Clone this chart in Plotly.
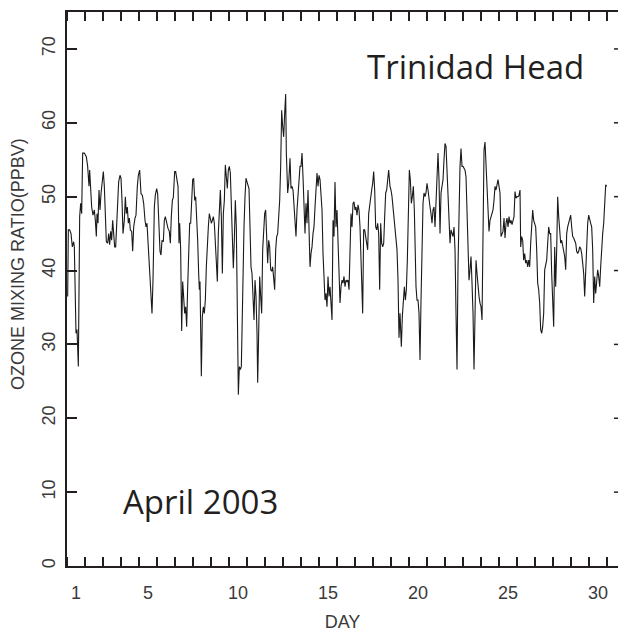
import plotly.graph_objects as go

# Surface ozone, Trinidad Head, April 2003.
# Time is in days of the month (1.0 = start of April 1), ozone in ppbv.
days_a = [1.037, 1.074, 1.148, 1.222, 1.296, 1.370, 1.407, 1.444, 1.5, 1.556, 1.630, 1.704, 1.759, 1.815,
          1.870, 1.963, 2.074, 2.148, 2.222, 2.259, 2.296, 2.370, 2.444, 2.519, 2.574, 2.630, 2.667, 2.722,
          2.778, 2.833, 2.889, 2.963, 3.019, 3.074, 3.130, 3.185, 3.259, 3.315, 3.370, 3.426, 3.481, 3.537,
          3.593, 3.648, 3.704, 3.759, 3.815, 3.870, 3.944, 4.0, 4.056, 4.111, 4.185, 4.241, 4.296, 4.352,
          4.407, 4.463, 4.519, 4.593, 4.648, 4.704, 4.778, 4.833, 4.907, 4.963, 5.037, 5.111, 5.185, 5.259,
          5.333, 5.389, 5.444, 5.5, 5.574, 5.648, 5.722, 5.778, 5.852, 5.907, 5.981, 6.037, 6.093, 6.167,
          6.222, 6.278, 6.352, 6.407, 6.463, 6.537, 6.611, 6.685, 6.741, 6.796, 6.852, 6.907, 6.981, 7.037]
ozone_a = [36.5, 45.5, 45.5, 45.0, 43.2, 43.9, 43.2, 40.0, 31.5, 32.0, 27.0, 47.3, 49.1, 47.7,
           55.9, 55.9, 55.4, 54.1, 51.4, 53.6, 51.4, 48.6, 47.5, 48.2, 46.8, 44.6, 47.7, 46.4,
           50.9, 48.2, 50.4, 52.7, 53.4, 51.4, 46.8, 43.9, 43.7, 45.0, 43.5, 45.3, 44.1, 46.8,
           45.0, 43.2, 43.2, 45.9, 47.5, 52.0, 52.9, 52.5, 49.5, 45.0, 46.8, 50.0, 47.7, 48.6,
           46.4, 47.1, 45.5, 45.3, 42.6, 45.9, 47.1, 47.5, 51.4, 52.9, 53.6, 50.4, 50.2, 49.1,
           46.8, 45.9, 46.4, 43.7, 39.6, 36.5, 34.2, 38.7, 48.6, 50.2, 51.1, 50.4, 45.9, 42.6,
           42.1, 44.1, 43.9, 46.8, 47.3, 46.4, 45.7, 45.3, 43.7, 47.3, 49.5, 49.9, 53.4, 53.4]

days_b = [7.167, 7.222, 7.259, 7.315, 7.370, 7.426, 7.481, 7.537, 7.593, 7.648, 7.704, 7.759, 7.815, 7.870,
          7.926, 7.981, 8.037, 8.093, 8.148, 8.204, 8.259, 8.315, 8.352, 8.389, 8.426, 8.463, 8.519, 8.574,
          8.630, 8.685, 8.741, 8.796, 8.852, 8.907, 8.963, 9.019, 9.074, 9.130, 9.185, 9.241, 9.296, 9.352,
          9.407, 9.463, 9.519, 9.574, 9.630, 9.685, 9.741, 9.796, 9.852, 9.907, 9.963, 10.019, 10.074,
          10.130, 10.185, 10.241, 10.296, 10.352, 10.407, 10.463, 10.519, 10.574, 10.630, 10.685, 10.722,
          10.778, 10.833, 10.889, 10.944, 11.0, 11.056, 11.111, 11.167, 11.222, 11.278, 11.333, 11.389,
          11.444, 11.5, 11.556, 11.593, 11.648, 11.704, 11.759, 11.815, 11.870, 11.926, 11.981, 12.037,
          12.093, 12.148, 12.204, 12.259, 12.315, 12.370, 12.426, 12.481, 12.537, 12.593, 12.648, 12.704,
          12.759, 12.815, 12.870, 12.926, 12.981, 13.037, 13.093]
ozone_b = [51.4, 43.7, 46.4, 42.8, 31.8, 38.5, 36.9, 34.2, 35.1, 32.4, 37.8, 42.8, 46.4, 46.4,
           49.5, 52.3, 52.5, 49.5, 50.0, 47.3, 44.1, 39.6, 37.4, 38.5, 33.8, 25.7, 33.8, 35.1,
           34.2, 36.0, 40.5, 43.7, 45.9, 47.7, 47.1, 46.4, 46.8, 47.3, 46.4, 43.2, 41.0, 38.5,
           45.0, 49.5, 50.9, 47.3, 39.6, 47.7, 49.5, 54.3, 52.3, 51.1, 53.6, 54.1, 53.2,
           48.2, 43.7, 40.3, 44.1, 49.5, 45.9, 35.6, 23.2, 27.0, 26.6, 27.0, 32.4,
           40.5, 45.9, 50.0, 52.5, 52.0, 51.6, 51.1, 45.9, 40.5, 39.6, 36.9, 33.3,
           38.7, 36.5, 31.5, 24.8, 31.5, 39.2, 36.5, 34.2, 42.8, 45.5, 47.7, 48.2,
           45.0, 41.0, 44.1, 43.2, 40.1, 39.9, 40.5, 38.7, 37.4, 42.8, 44.6, 45.0,
           47.3, 49.5, 54.1, 61.7, 59.5, 58.1, 61.3]

days_c = [13.148, 13.185, 13.259, 13.315, 13.389, 13.444, 13.5, 13.556, 13.611, 13.667, 13.722, 13.778,
          13.833, 13.889, 13.944, 14.0, 14.056, 14.111, 14.167, 14.222, 14.278, 14.333, 14.389, 14.444,
          14.5, 14.556, 14.611, 14.667, 14.722, 14.778, 14.833, 14.889, 14.944, 15.0, 15.056, 15.111,
          15.167, 15.222, 15.278, 15.333, 15.389, 15.444, 15.5, 15.556, 15.611, 15.667, 15.722, 15.778,
          15.833, 15.889, 15.944, 16.0, 16.056, 16.111, 16.167, 16.222, 16.278, 16.333, 16.389, 16.444,
          16.5, 16.556, 16.611, 16.667, 16.722, 16.778, 16.833, 16.889, 16.944, 17.0, 17.056, 17.111,
          17.167, 17.222, 17.278, 17.333, 17.389, 17.426, 17.481, 17.537, 17.593, 17.648, 17.704, 17.759,
          17.815, 17.870, 17.926, 17.981, 18.037, 18.093, 18.148, 18.204, 18.259, 18.315, 18.370, 18.426,
          18.481, 18.537, 18.593, 18.648, 18.704, 18.759, 18.815, 18.870]
ozone_c = [63.9, 55.9, 50.5, 51.8, 55.2, 51.1, 51.4, 50.9, 48.2, 45.7, 44.6, 48.2,
           50.2, 51.4, 54.1, 54.1, 55.9, 52.7, 48.2, 45.0, 49.1, 46.4, 50.9, 44.1,
           40.5, 42.3, 43.2, 45.0, 45.9, 48.6, 51.8, 53.2, 51.4, 52.9, 52.3, 50.0,
           48.2, 42.3, 39.2, 36.0, 36.9, 35.1, 39.2, 36.5, 37.8, 36.0, 33.3, 46.8,
           44.6, 52.0, 45.9, 48.2, 42.8, 37.8, 35.6, 37.8, 38.7, 38.3, 39.2, 37.8,
           38.7, 38.5, 38.7, 37.4, 43.2, 47.7, 45.9, 49.1, 49.3, 48.2, 48.6, 47.5,
           48.9, 48.2, 45.9, 42.3, 37.8, 34.2, 45.5, 45.5, 44.6, 43.2, 42.8, 47.7,
           49.1, 50.5, 50.9, 51.8, 53.4, 50.9, 45.9, 45.5, 46.4, 45.0, 37.4, 46.4,
           43.7, 43.2, 43.7, 47.3, 50.5, 50.9, 52.7, 53.6]

days_d = [18.944, 19.0, 19.056, 19.111, 19.167, 19.222, 19.278, 19.333, 19.389, 19.444, 19.5, 19.574,
          19.630, 19.685, 19.741, 19.796, 19.852, 19.907, 19.963, 20.019, 20.074, 20.130, 20.185, 20.241,
          20.296, 20.333, 20.389, 20.444, 20.5, 20.556, 20.611, 20.667, 20.722, 20.778, 20.833, 20.889,
          20.944, 21.0, 21.056, 21.111, 21.167, 21.222, 21.278, 21.333, 21.389, 21.444, 21.5, 21.556,
          21.611, 21.667, 21.722, 21.778, 21.833, 21.889, 21.944, 22.0, 22.056, 22.111, 22.167, 22.222,
          22.278, 22.333, 22.389, 22.444, 22.5, 22.556, 22.611, 22.667, 22.722, 22.778, 22.833, 22.889,
          22.944, 23.0, 23.056, 23.111, 23.167, 23.222, 23.278, 23.333, 23.389, 23.444, 23.5, 23.556,
          23.611, 23.667, 23.722, 23.778, 23.833, 23.889, 23.944, 24.0, 24.056, 24.111, 24.167, 24.222,
          24.278, 24.333, 24.389, 24.444, 24.5, 24.556, 24.611, 24.667, 24.722, 24.778, 24.833, 24.889,
          24.944, 25.0]
ozone_d = [51.4, 50.9, 50.0, 48.6, 47.7, 46.4, 45.0, 42.8, 38.7, 30.9, 34.2, 29.7,
           33.8, 36.0, 37.8, 36.0, 37.4, 41.4, 47.3, 53.6, 52.3, 49.1, 50.0, 51.4,
           48.2, 43.7, 37.8, 36.0, 36.0, 34.2, 27.9, 36.0, 42.8, 49.1, 50.5, 50.0,
           50.5, 51.8, 50.9, 49.1, 48.6, 47.7, 46.4, 48.2, 48.6, 45.9, 50.0, 52.7,
           55.9, 52.3, 45.0, 50.5, 51.8, 52.3, 55.0, 57.2, 56.8, 53.2, 50.0, 47.7,
           43.7, 45.5, 45.0, 44.6, 45.9, 42.8, 34.2, 26.6, 40.5, 49.5, 54.1, 56.5,
           54.1, 54.1, 53.8, 53.6, 52.7, 47.7, 42.8, 38.7, 40.1, 41.9, 38.3, 34.2,
           26.6, 37.4, 41.4, 39.6, 37.4, 36.5, 35.6, 35.1, 33.3, 46.8, 56.3, 57.4,
           54.1, 49.5, 48.6, 45.3, 46.8, 47.3, 47.7, 48.2, 49.5, 51.4, 50.9, 51.8,
           52.3, 51.4]

days_e = [25.056, 25.111, 25.167, 25.222, 25.278, 25.333, 25.389, 25.444, 25.5, 25.556, 25.611, 25.667,
          25.722, 25.778, 25.833, 25.889, 25.944, 26.0, 26.056, 26.111, 26.167, 26.204, 26.259, 26.315,
          26.370, 26.426, 26.481, 26.537, 26.593, 26.648, 26.704, 26.759, 26.815, 26.870, 26.926, 26.981,
          27.037, 27.093, 27.148, 27.204, 27.259, 27.315, 27.370, 27.426, 27.481, 27.537, 27.593, 27.648,
          27.704, 27.759, 27.815, 27.870, 27.926, 27.981, 28.037, 28.093, 28.148, 28.204, 28.259, 28.315,
          28.370, 28.426, 28.481, 28.537, 28.593, 28.648, 28.704, 28.759, 28.815, 28.870, 28.926, 28.981,
          29.037, 29.093, 29.148, 29.204, 29.259, 29.315, 29.370, 29.426, 29.481, 29.537, 29.593, 29.648,
          29.704, 29.759, 29.815, 29.870, 29.926, 29.981, 30.037, 30.093, 30.148, 30.204, 30.259, 30.315,
          30.370, 30.426, 30.481, 30.537, 30.593, 30.648, 30.704, 30.759, 30.815, 30.870, 30.926, 30.981]
ozone_e = [50.5, 44.6, 45.0, 45.3, 47.1, 44.4, 46.4, 47.1, 45.9, 47.3, 46.4, 46.8,
           46.2, 46.8, 47.3, 50.7, 49.8, 50.0, 50.0, 50.2, 50.9, 43.2, 44.6, 44.1,
           41.4, 42.3, 41.0, 41.4, 40.5, 41.4, 40.5, 43.7, 46.8, 48.2, 46.8, 46.4,
           45.9, 42.8, 38.3, 37.4, 35.6, 32.0, 31.5, 32.4, 34.2, 40.1, 41.0, 41.4,
           43.7, 45.9, 45.0, 45.0, 39.6, 36.0, 32.4, 43.2, 37.8, 42.8, 50.0, 47.3,
           44.6, 43.7, 44.1, 43.2, 42.3, 41.9, 40.1, 45.0, 45.9, 46.4, 47.3, 47.5,
           45.9, 44.6, 44.4, 44.1, 43.7, 42.6, 42.3, 42.6, 43.2, 43.0, 42.3, 41.0,
           39.6, 36.5, 40.5, 42.8, 46.4, 47.5, 47.1, 46.4, 45.9, 42.8, 35.6, 39.2,
           36.9, 38.7, 40.1, 39.2, 37.8, 40.5, 43.2, 45.0, 46.4, 48.6, 51.6, 51.4]

day_labels = [1, 5, 10, 15, 20, 25, 30]
ozone_ticks = [0, 10, 20, 30, 40, 50, 60, 70]

days = days_a + days_b + days_c + days_d + days_e
ozone = ozone_a + ozone_b + ozone_c + ozone_d + ozone_e

INK = "#231f20"
TICK_FONT = dict(family="Liberation Sans, Arial, sans-serif", size=18, color="#3a3a3a")

fig = go.Figure()
fig.add_trace(go.Scatter(x=days, y=ozone, mode="lines",
                         line=dict(color="#1a1a1a", width=1.1), hoverinfo="skip"))

# day labels sit at mid-day, minor ticks mark the day boundaries
fig.update_xaxes(
    range=[1, 31.61], showgrid=False, zeroline=False,
    showline=True, linecolor=INK, linewidth=2, mirror="ticks",
    tickmode="array", tickvals=[d + 0.5 for d in day_labels],
    ticktext=[str(d) for d in day_labels], ticks="",
    tickfont=TICK_FONT, ticklabelstandoff=9,
    minor=dict(tick0=1, dtick=1, ticks="inside", ticklen=9, tickwidth=1.5, tickcolor=INK),
    title=dict(text="DAY", font=TICK_FONT, standoff=14),
)
fig.update_yaxes(
    range=[0, 75], showgrid=False, zeroline=False,
    showline=True, linecolor=INK, linewidth=2,
    tickmode="array", tickvals=ozone_ticks, ticks="inside", ticklen=10,
    tickwidth=1.5, tickcolor=INK, tickangle=-90, tickfont=TICK_FONT,
    ticklabelstandoff=3,
)

# short inward ticks on the right-hand frame edge
for v in ozone_ticks[1:]:
    fig.add_shape(type="line", xref="paper", yref="y", x0=1 - 4 / 551, x1=1, y0=v, y1=v,
                  line=dict(color=INK, width=1.5))

fig.add_annotation(text="OZONE MIXING RATIO(PPBV)", xref="paper", yref="paper",
                   x=-0.089, y=0.545, textangle=-90, showarrow=False,
                   font=TICK_FONT, xanchor="center", yanchor="middle")
fig.add_annotation(text="Trinidad Head", xref="paper", yref="paper", x=0.742, y=0.901,
                   showarrow=False, xanchor="center", yanchor="middle",
                   font=dict(family="Open Sans, sans-serif", size=33, color=INK))
fig.add_annotation(text="April 2003", xref="paper", yref="paper", x=0.243, y=0.117,
                   showarrow=False, xanchor="center", yanchor="middle",
                   font=dict(family="Open Sans, sans-serif", size=33, color=INK))

fig.update_layout(
    width=618, height=632, margin=dict(l=67, r=0, t=12, b=66),
    paper_bgcolor="white", plot_bgcolor="white", showlegend=False,
)

fig.write_html("out.html")
